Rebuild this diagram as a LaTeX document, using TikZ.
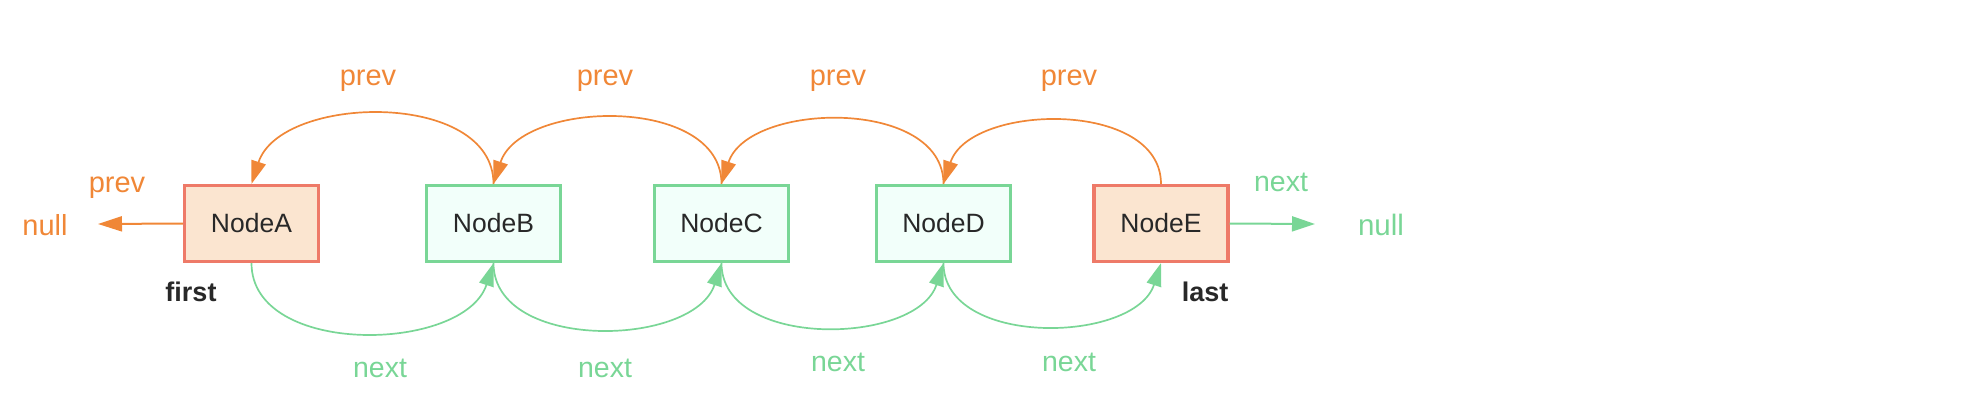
\documentclass[tikz,border=0pt]{standalone}
\usepackage{fontspec}
\setmainfont{Liberation Sans}
\usetikzlibrary{arrows.meta}
\definecolor{orng}{RGB}{240,135,55}
\definecolor{grn}{RGB}{121,214,150}
\definecolor{grnfill}{RGB}{242,255,250}
\definecolor{redb}{RGB}{238,122,104}
\definecolor{redfill}{RGB}{251,229,208}
\definecolor{txt}{RGB}{40,40,40}
\begin{document}
\begin{tikzpicture}[x=1pt,y=-1pt,
  nodebox/.style={draw, line width=3.2pt, minimum width=134pt, minimum height=76pt, inner sep=0pt, font=\fontsize{26.5}{31}\selectfont, text=txt},
  endbox/.style={nodebox, draw=redb, fill=redfill},
  midbox/.style={nodebox, draw=grn, fill=grnfill},
  prevarc/.style={draw=orng, line width=1.7pt, -{Triangle[length=23pt,width=15pt]}},
  nextarc/.style={draw=grn, line width=1.7pt, -{Triangle[length=23pt,width=15pt]}},
  plabel/.style={text=orng, font=\fontsize{29}{34}\selectfont, anchor=base, inner sep=0pt},
  nlabel/.style={text=grn, font=\fontsize{28.5}{34}\selectfont, anchor=base, inner sep=0pt},
  blabel/.style={text=txt, font=\bfseries\fontsize{27}{32}\selectfont, anchor=base, inner sep=0pt}]
\useasboundingbox (0,0) rectangle (1966,408);
\node[endbox] (A) at (251.5,223.5) {NodeA};
\node[midbox] (B) at (493.5,223.5) {NodeB};
\node[midbox] (C) at (721.5,223.5) {NodeC};
\node[midbox] (D) at (943.5,223.5) {NodeD};
\node[endbox] (E) at (1161,223.5) {NodeE};
% prev arcs
\draw[prevarc] (B.north) to[out=90,in=72] (A.north);
\draw[prevarc] (C.north) to[out=90,in=72] (B.north);
\draw[prevarc] (D.north) to[out=90,in=72] (C.north);
\draw[prevarc] (E.north) to[out=90,in=72] (D.north);
% next arcs
\draw[nextarc] (A.south) to[out=-90,in=-108] (B.south);
\draw[nextarc] (B.south) to[out=-90,in=-108] (C.south);
\draw[nextarc] (C.south) to[out=-90,in=-108] (D.south);
\draw[nextarc] (D.south) to[out=-90,in=-108] (E.south);
% labels
\node[plabel] (p1) at (368,85) {prev};
\node[plabel] (p2) at (605,85) {prev};
\node[plabel] (p3) at (838,85) {prev};
\node[plabel] (p4) at (1069,85) {prev};
\node[nlabel] (n1) at (380,377) {next};
\node[nlabel] (n2) at (605,377) {next};
\node[nlabel] (n3) at (838,371) {next};
\node[nlabel] (n4) at (1069,371) {next};
% ends
\node[plabel] (p0) at (117,192) {prev};
\node[plabel] (nullL) at (45,235) {null};
\coordinate (tipL) at (98,224);
\draw[draw=orng, line width=2pt, -{Triangle[length=24pt,width=15pt]}] (A.west) -- (tipL);
\node[nlabel] (n5) at (1281,191) {next};
\node[nlabel, font=\fontsize{29.5}{34}\selectfont] (nullR) at (1381,235) {null};
\coordinate (tipR) at (1315,224);
\draw[draw=grn, line width=2pt, -{Triangle[length=23pt,width=15pt]}] (E.east) -- (tipR);
\node[blabel] (first) at (191,301) {first};
\node[blabel] (last) at (1205,301) {last};
\end{tikzpicture}
\end{document}
